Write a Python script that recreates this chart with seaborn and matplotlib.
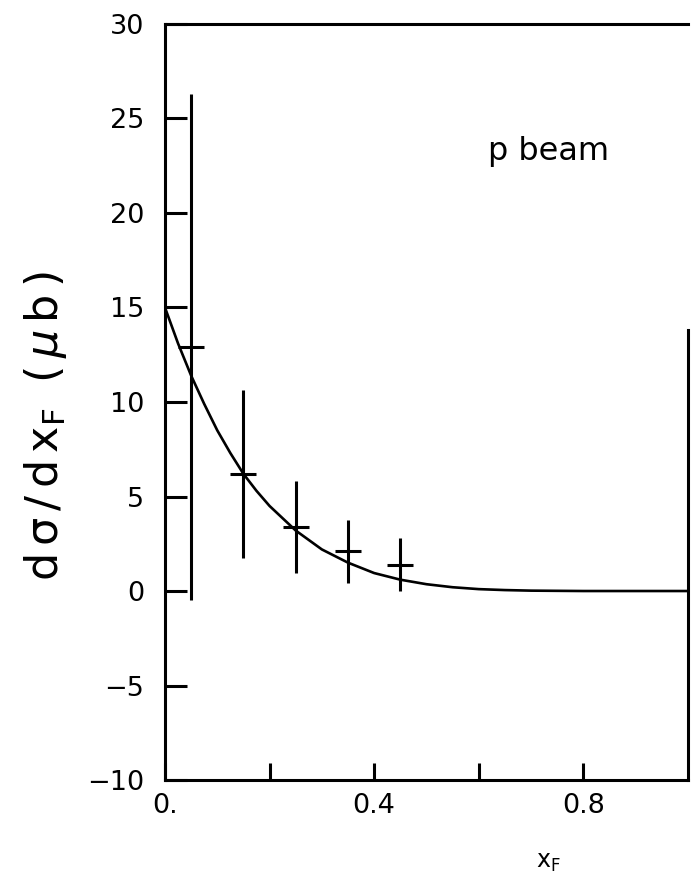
import matplotlib
matplotlib.use("Agg")
import matplotlib.pyplot as plt
import seaborn as sns

# Measured cross section per x_F bin (bin centre, value, error, half bin width)
x_bins = [0.05, 0.15, 0.25, 0.35, 0.45]
dsigma = [12.9, 6.2, 3.4, 2.1, 1.4]
dsigma_err = [13.4, 4.45, 2.43, 1.67, 1.39]
bin_halfwidth = [0.025, 0.025, 0.025, 0.025, 0.025]

# Fitted shape of d(sigma)/dx_F
curve_x = [0.0, 0.025, 0.05, 0.075, 0.1, 0.125, 0.15, 0.175, 0.2, 0.25, 0.3,
           0.35, 0.4, 0.45, 0.5, 0.55, 0.6, 0.65, 0.7, 0.8, 0.9, 1.0]
curve_y = [15.0, 13.1, 11.4, 9.9, 8.5, 7.3, 6.2, 5.3, 4.5, 3.2, 2.2,
           1.5, 0.95, 0.6, 0.36, 0.2, 0.1, 0.05, 0.02, 0.0, 0.0, 0.0]

y_ticks = [-10, -5, 0, 5, 10, 15, 20, 25, 30]
y_ticklabels = ["\u221210", "\u22125", "0", "5", "10", "15", "20", "25", "30"]
x_ticks = [0.0, 0.2, 0.4, 0.6, 0.8]
x_ticklabels = ["0.", "", "0.4", "", "0.8"]

sns.set_style("white")
plt.rcParams["font.family"] = ["DejaVu Sans"]
plt.rcParams["mathtext.fontset"] = "dejavusans"
plt.rcParams["text.color"] = "black"

fig = plt.figure(figsize=(6.96, 8.81), dpi=100)
ax = fig.add_axes([0.237, 0.1146, 0.7515, 0.8582])

lw = 2.2
sns.lineplot(x=curve_x, y=curve_y, color="black", linewidth=1.9, ax=ax)
ax.errorbar(x_bins, dsigma, xerr=bin_halfwidth, yerr=dsigma_err, fmt="none",
            ecolor="black", elinewidth=lw, capsize=0)

ax.set_xlim(0, 1.0)
ax.set_ylim(-10, 30)

ax.set_yticks(y_ticks)
ax.set_yticklabels(y_ticklabels, fontsize=19.5, color="black")
ax.set_xticks(x_ticks)
ax.set_xticklabels(x_ticklabels, fontsize=19.5, color="black")

ax.tick_params(axis="y", direction="in", length=16, width=lw, pad=15,
               left=True, right=False, colors="black")
ax.tick_params(axis="x", direction="in", length=12, width=lw, pad=9,
               bottom=True, top=False, colors="black")

for side in ["left", "bottom", "top", "right"]:
    ax.spines[side].set_linewidth(lw)
    ax.spines[side].set_color("black")
ax.spines["right"].set_bounds(-10, 13.8)

ax.set_xlabel("")
ax.set_ylabel("")
ax.text(0.617, 22.8, "p beam", fontsize=23, ha="left", va="baseline",
        color="black")

ylab = r"d$\,$σ$\,$/$\,$d$\,$x$_{\mathrm{F}}$$\;\;$($\,\mu\,$b$\,$)"
fig.text(46 / 696, 1 - 426 / 881, ylab, rotation=90, ha="center",
         va="center", fontsize=32, color="black")
fig.text(548 / 696, 1 - 862 / 881, r"x$_{\mathrm{F}}$", ha="center",
         va="center", fontsize=17, color="black")

fig.savefig("out.png", dpi=100, facecolor="white")
